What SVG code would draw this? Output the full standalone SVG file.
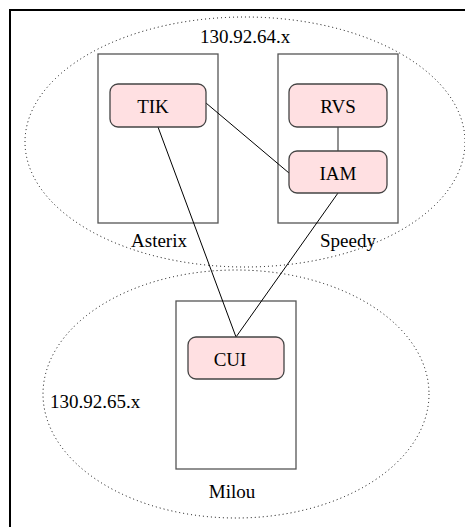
<svg xmlns="http://www.w3.org/2000/svg" width="465" height="527" viewBox="0 0 465 527">
<style>
.lbl{font-family:'Liberation Serif','Times New Roman',serif;font-size:19px;fill:#000}
.net{fill:none;stroke:#000;stroke-width:1;stroke-dasharray:1 3}
.host{fill:#fff;stroke:#555;stroke-width:1.3}
.comp{fill:#ffe0e2;stroke:#444;stroke-width:1.3}
.c{fill:none;stroke:#000;stroke-width:1}
.g{fill:none;stroke:#555;stroke-width:1.3}
</style>
<rect x="0" y="0" width="465" height="527" fill="#fff"/>
<rect x="10" y="10" width="470" height="530" fill="none" stroke="#000" stroke-width="2"/>
<g id="net64">
<ellipse class="net" cx="245" cy="142" rx="220" ry="125"/>
<text class="lbl" x="245" y="43" text-anchor="middle">130.92.64.x</text>
</g>
<g id="net65">
<ellipse class="net" cx="236" cy="394" rx="193" ry="124"/>
<text class="lbl" x="50" y="408">130.92.65.x</text>
</g>
<g id="Asterix">
<rect class="host" x="98" y="54" width="120" height="169"/>
<text class="lbl" x="159" y="247" text-anchor="middle">Asterix</text>
</g>
<g id="Speedy">
<rect class="host" x="278" y="54" width="120" height="169"/>
<text class="lbl" x="348" y="247" text-anchor="middle">Speedy</text>
</g>
<g id="Milou">
<rect class="host" x="176" y="301" width="120" height="168"/>
<text class="lbl" x="232" y="498" text-anchor="middle">Milou</text>
</g>
<g id="connectors">
<line class="c" x1="206" y1="103" x2="289" y2="173"/>
<line class="c" x1="158" y1="127" x2="236" y2="337"/>
<line class="c" x1="338" y1="193" x2="236" y2="337"/>
<line class="g" x1="338" y1="127" x2="338" y2="151"/>
</g>
<g id="TIK">
<rect class="comp" x="110" y="84" width="96" height="43" rx="8"/>
<text class="lbl" x="153" y="113" text-anchor="middle">TIK</text>
</g>
<g id="RVS">
<rect class="comp" x="289" y="84" width="98" height="43" rx="8"/>
<text class="lbl" x="338" y="113" text-anchor="middle">RVS</text>
</g>
<g id="IAM">
<rect class="comp" x="289" y="151" width="98" height="42" rx="8"/>
<text class="lbl" x="338" y="180" text-anchor="middle">IAM</text>
</g>
<g id="CUI">
<rect class="comp" x="188" y="337" width="96" height="42" rx="8"/>
<text class="lbl" x="230" y="366" text-anchor="middle">CUI</text>
</g>
</svg>
